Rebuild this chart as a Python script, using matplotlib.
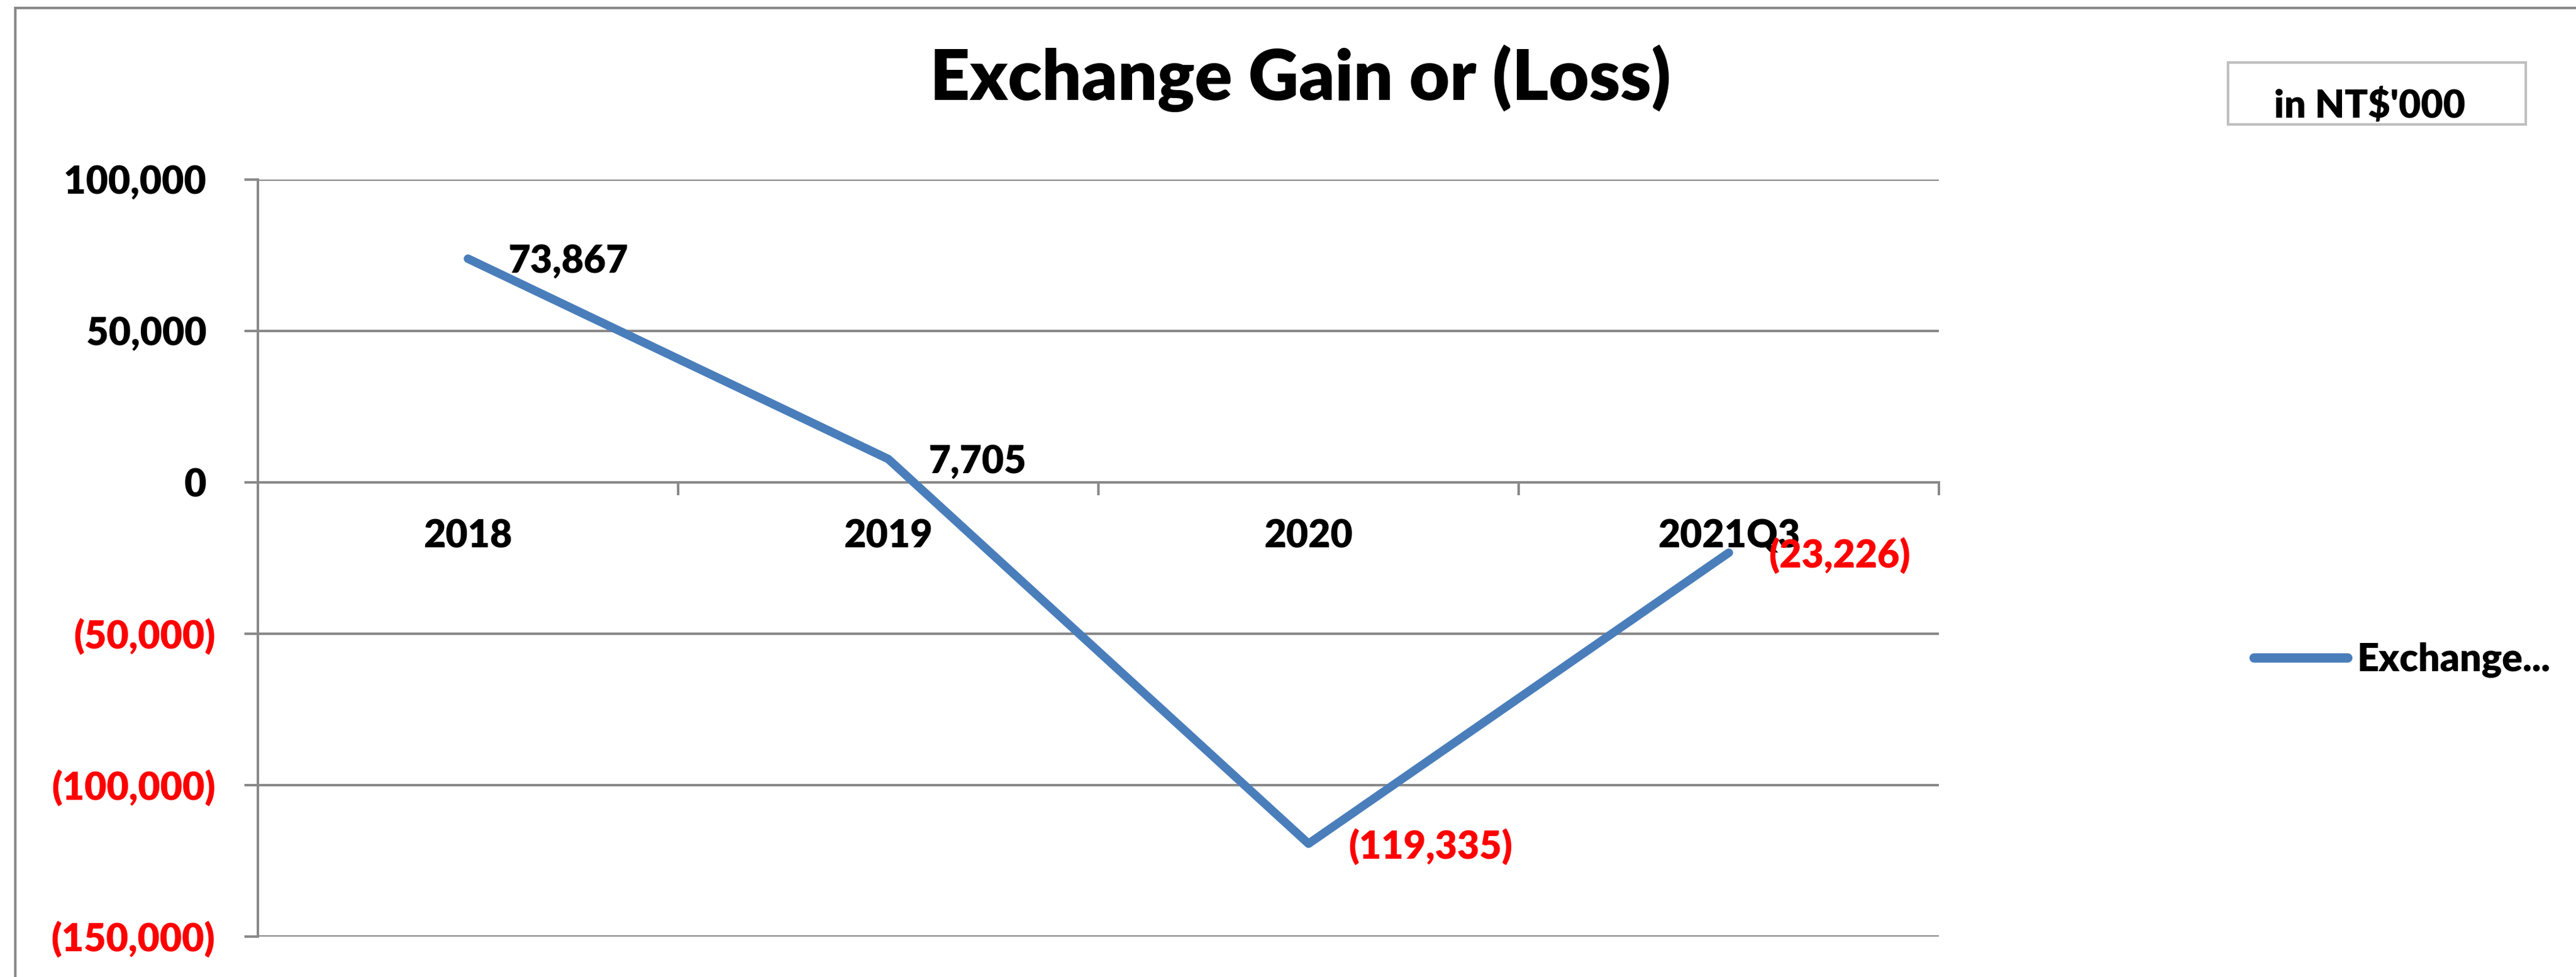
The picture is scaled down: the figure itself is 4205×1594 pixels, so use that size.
import matplotlib
matplotlib.use("Agg")
import matplotlib.pyplot as plt
from matplotlib.patches import Rectangle
from matplotlib.lines import Line2D
from matplotlib.ticker import FixedLocator

# Data
categories = ["2018", "2019", "2020", "2021Q3"]
values = [73867, 7705, -119335, -23226]
y_ticks = [100000, 50000, 0, -50000, -100000, -150000]
series_name = "Exchange..."
title = "Exchange Gain or (Loss)"
unit_text = "in NT$'000"

GRAY = "#898989"
BLUE = "#4A7EBB"
RED = "#FF0000"
FS = 45
WEIGHT = "heavy"

plt.rcParams["font.family"] = ["Lato", "DejaVu Sans"]
plt.rcParams["font.weight"] = WEIGHT

fig = plt.figure(figsize=(42.05, 15.94), dpi=100)
ax = fig.add_axes([0.1001, 0.0414, 0.6526, 0.7748])

x = list(range(len(categories)))
ax.plot(x, values, color=BLUE, lw=10, solid_capstyle="round",
        solid_joinstyle="round", zorder=3)

ax.set_xlim(-0.5, len(categories) - 0.5)
ax.set_ylim(-150000, 100000)


def fmt(v):
    if v < 0:
        return f"({-v:,})"
    return f"{v:,} "


# y axis
ax.set_yticks(y_ticks)
ax.set_yticklabels([fmt(v) for v in y_ticks], fontweight=WEIGHT)
for lab, v in zip(ax.get_yticklabels(), y_ticks):
    lab.set_color(RED if v < 0 else "black")
ax.tick_params(axis="y", length=16, width=2.9, color=GRAY, pad=34,
               labelsize=FS)
ax.grid(axis="y", color=GRAY, lw=2.9)
ax.set_axisbelow(True)

# x axis crossing at zero
ax.set_xticks(x)
ax.set_xticklabels(categories, fontweight=WEIGHT)
ax.xaxis.set_minor_locator(FixedLocator([i + 0.5 for i in x]))
ax.tick_params(axis="x", which="major", length=0, pad=43, labelsize=FS)
ax.tick_params(axis="x", which="minor", length=15, width=2.9, color=GRAY,
               direction="out")

for s in ["top", "right"]:
    ax.spines[s].set_visible(False)
ax.spines["bottom"].set_position(("data", 0))
ax.spines["bottom"].set_color(GRAY)
ax.spines["bottom"].set_linewidth(2.9)
ax.spines["left"].set_color(GRAY)
ax.spines["left"].set_linewidth(2.9)

# data labels
for xi, v in zip(x, values):
    ax.annotate(fmt(v).strip(), (xi, v), xytext=(47, 0),
                textcoords="offset points", ha="left", va="center_baseline",
                fontsize=FS, fontweight=WEIGHT,
                color=RED if v < 0 else "black", zorder=4)

# title
fig.text(2123 / 4205, 1 - 163 / 1594, title, ha="center", va="baseline",
         fontsize=82, fontweight=WEIGHT)

# unit box
fig.patches.append(Rectangle((3637 / 4205, 1 - 203 / 1594),
                             (4123 - 3637) / 4205, (203 - 102) / 1594,
                             transform=fig.transFigure, fill=False,
                             edgecolor="#BFBFBF", lw=3))
fig.text(3868 / 4205, 1 - 192 / 1594, unit_text, ha="center",
         va="baseline", fontsize=FS, fontweight=WEIGHT)

# chart-area border (top and left visible)
fig.add_artist(Line2D([25 / 4205, 25 / 4205], [0, 1 - 13 / 1594],
                      transform=fig.transFigure, color=GRAY, lw=2.9))
fig.add_artist(Line2D([25 / 4205, 1], [1 - 13 / 1594, 1 - 13 / 1594],
                      transform=fig.transFigure, color=GRAY, lw=2.9))

# legend
handle = Line2D([], [], color=BLUE, lw=11, solid_capstyle="round")
fig.legend([handle], [series_name], loc="center left",
           bbox_to_anchor=(3679 / 4205, 1 - 1077 / 1594),
           bbox_transform=fig.transFigure, frameon=False,
           prop={"size": FS, "weight": WEIGHT},
           handlelength=2.45, handletextpad=0.25, borderpad=0,
           borderaxespad=0)

fig.savefig("out.png", dpi=100)
